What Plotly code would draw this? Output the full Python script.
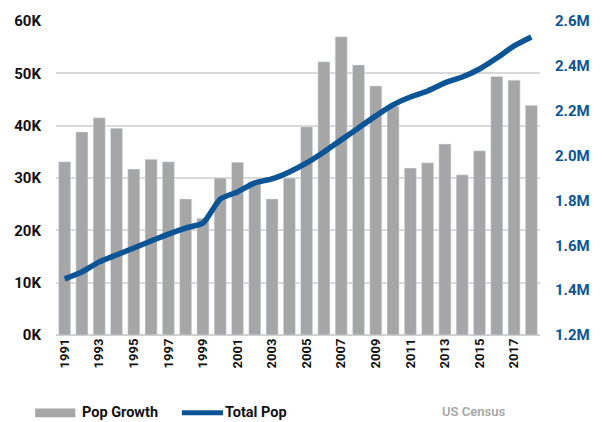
import plotly.graph_objects as go

years = list(range(1991, 2019))
pop_growth = [33100, 38800, 41500, 39500, 31700, 33600, 33100, 26000, 22300, 30000,
              33000, 29300, 26000, 30000, 39800, 52200, 57000, 51600, 47600, 43700,
              31900, 32900, 36500, 30600, 35200, 49400, 48700, 43900]
total_pop = [1.450e6, 1.481e6, 1.526e6, 1.557e6, 1.588e6, 1.619e6, 1.650e6, 1.677e6,
             1.699e6, 1.806e6, 1.838e6, 1.878e6, 1.896e6, 1.927e6, 1.967e6, 2.016e6,
             2.070e6, 2.123e6, 2.177e6, 2.226e6, 2.261e6, 2.288e6, 2.324e6, 2.350e6,
             2.386e6, 2.435e6, 2.489e6, 2.529e6]
left_ticks = [0, 10000, 20000, 30000, 40000, 50000, 60000]
left_labels = ["0K", "10K", "20K", "30K", "40K", "50K", "60K"]
right_ticks = [1.2e6, 1.4e6, 1.6e6, 1.8e6, 2.0e6, 2.2e6, 2.4e6, 2.6e6]
right_labels = ["1.2M", "1.4M", "1.6M", "1.8M", "2.0M", "2.2M", "2.4M", "2.6M"]
x_ticks = list(range(1991, 2019, 2))

GRAY = "#a6a6a6"
BLUE = "#0b5597"
FONT = "Roboto"

fig = go.Figure()
fig.add_trace(go.Bar(x=years, y=pop_growth, name="Pop Growth", marker_color=GRAY,
                     yaxis="y"))
fig.add_trace(go.Scatter(x=years, y=total_pop, name="Total Pop", mode="lines",
                         line=dict(color=BLUE, width=5.5, shape="spline", smoothing=0.6),
                         yaxis="y2"))

fig.update_layout(
    width=605, height=422,
    margin=dict(l=56, r=65, t=21, b=87),
    paper_bgcolor="white", plot_bgcolor="white",
    showlegend=False,
    bargap=0.3,
    font=dict(family=FONT, size=15, color="#111111", weight=700),
    xaxis=dict(range=[1990.5, 2018.5], tickmode="array", tickvals=x_ticks,
               ticktext=[str(v) for v in x_ticks], tickangle=-90,
               showgrid=False, ticks="", showline=False,
               tickfont=dict(size=13, family=FONT, weight=700)),
    yaxis=dict(range=[0, 60000], tickmode="array", tickvals=left_ticks,
               ticktext=left_labels, showgrid=True, gridcolor="#d9d9d9",
               gridwidth=1.5, zeroline=True, zerolinecolor="#d0d0d0", zerolinewidth=2,
               ticks="", ticklabelstandoff=14,
               tickfont=dict(size=15, family=FONT, weight=700)),
    yaxis2=dict(range=[1.2e6, 2.6e6], tickmode="array", tickvals=right_ticks,
                ticktext=right_labels, overlaying="y", side="right",
                showgrid=False, zeroline=False, ticks="", ticklabelstandoff=14,
                tickfont=dict(size=15, family=FONT, color=BLUE, weight=700)),
)

# custom legend
fig.add_shape(type="rect", xref="paper", yref="paper", x0=-0.043, x1=0.04,
              y0=-0.262, y1=-0.234, fillcolor=GRAY, line=dict(width=0))
fig.add_annotation(xref="paper", yref="paper", x=0.05, y=-0.248, text="Pop Growth",
                   showarrow=False, xanchor="left", yanchor="middle",
                   font=dict(size=14.5, family=FONT, weight=700, color="#111111"))
fig.add_shape(type="line", xref="paper", yref="paper", x0=0.26, x1=0.345,
              y0=-0.248, y1=-0.248, line=dict(color=BLUE, width=5))
fig.add_annotation(xref="paper", yref="paper", x=0.345, y=-0.248, text="Total Pop",
                   showarrow=False, xanchor="left", yanchor="middle",
                   font=dict(size=14.5, family=FONT, weight=700, color="#111111"))
fig.add_annotation(xref="paper", yref="paper", x=0.863, y=-0.243, text="US Census",
                   showarrow=False, xanchor="center", yanchor="middle",
                   font=dict(size=13, family=FONT, weight=600, color="#a6a6a6"))

fig.write_html("out.html", post_script="document.body.style.margin='0';",
               config={"displayModeBar": False})
